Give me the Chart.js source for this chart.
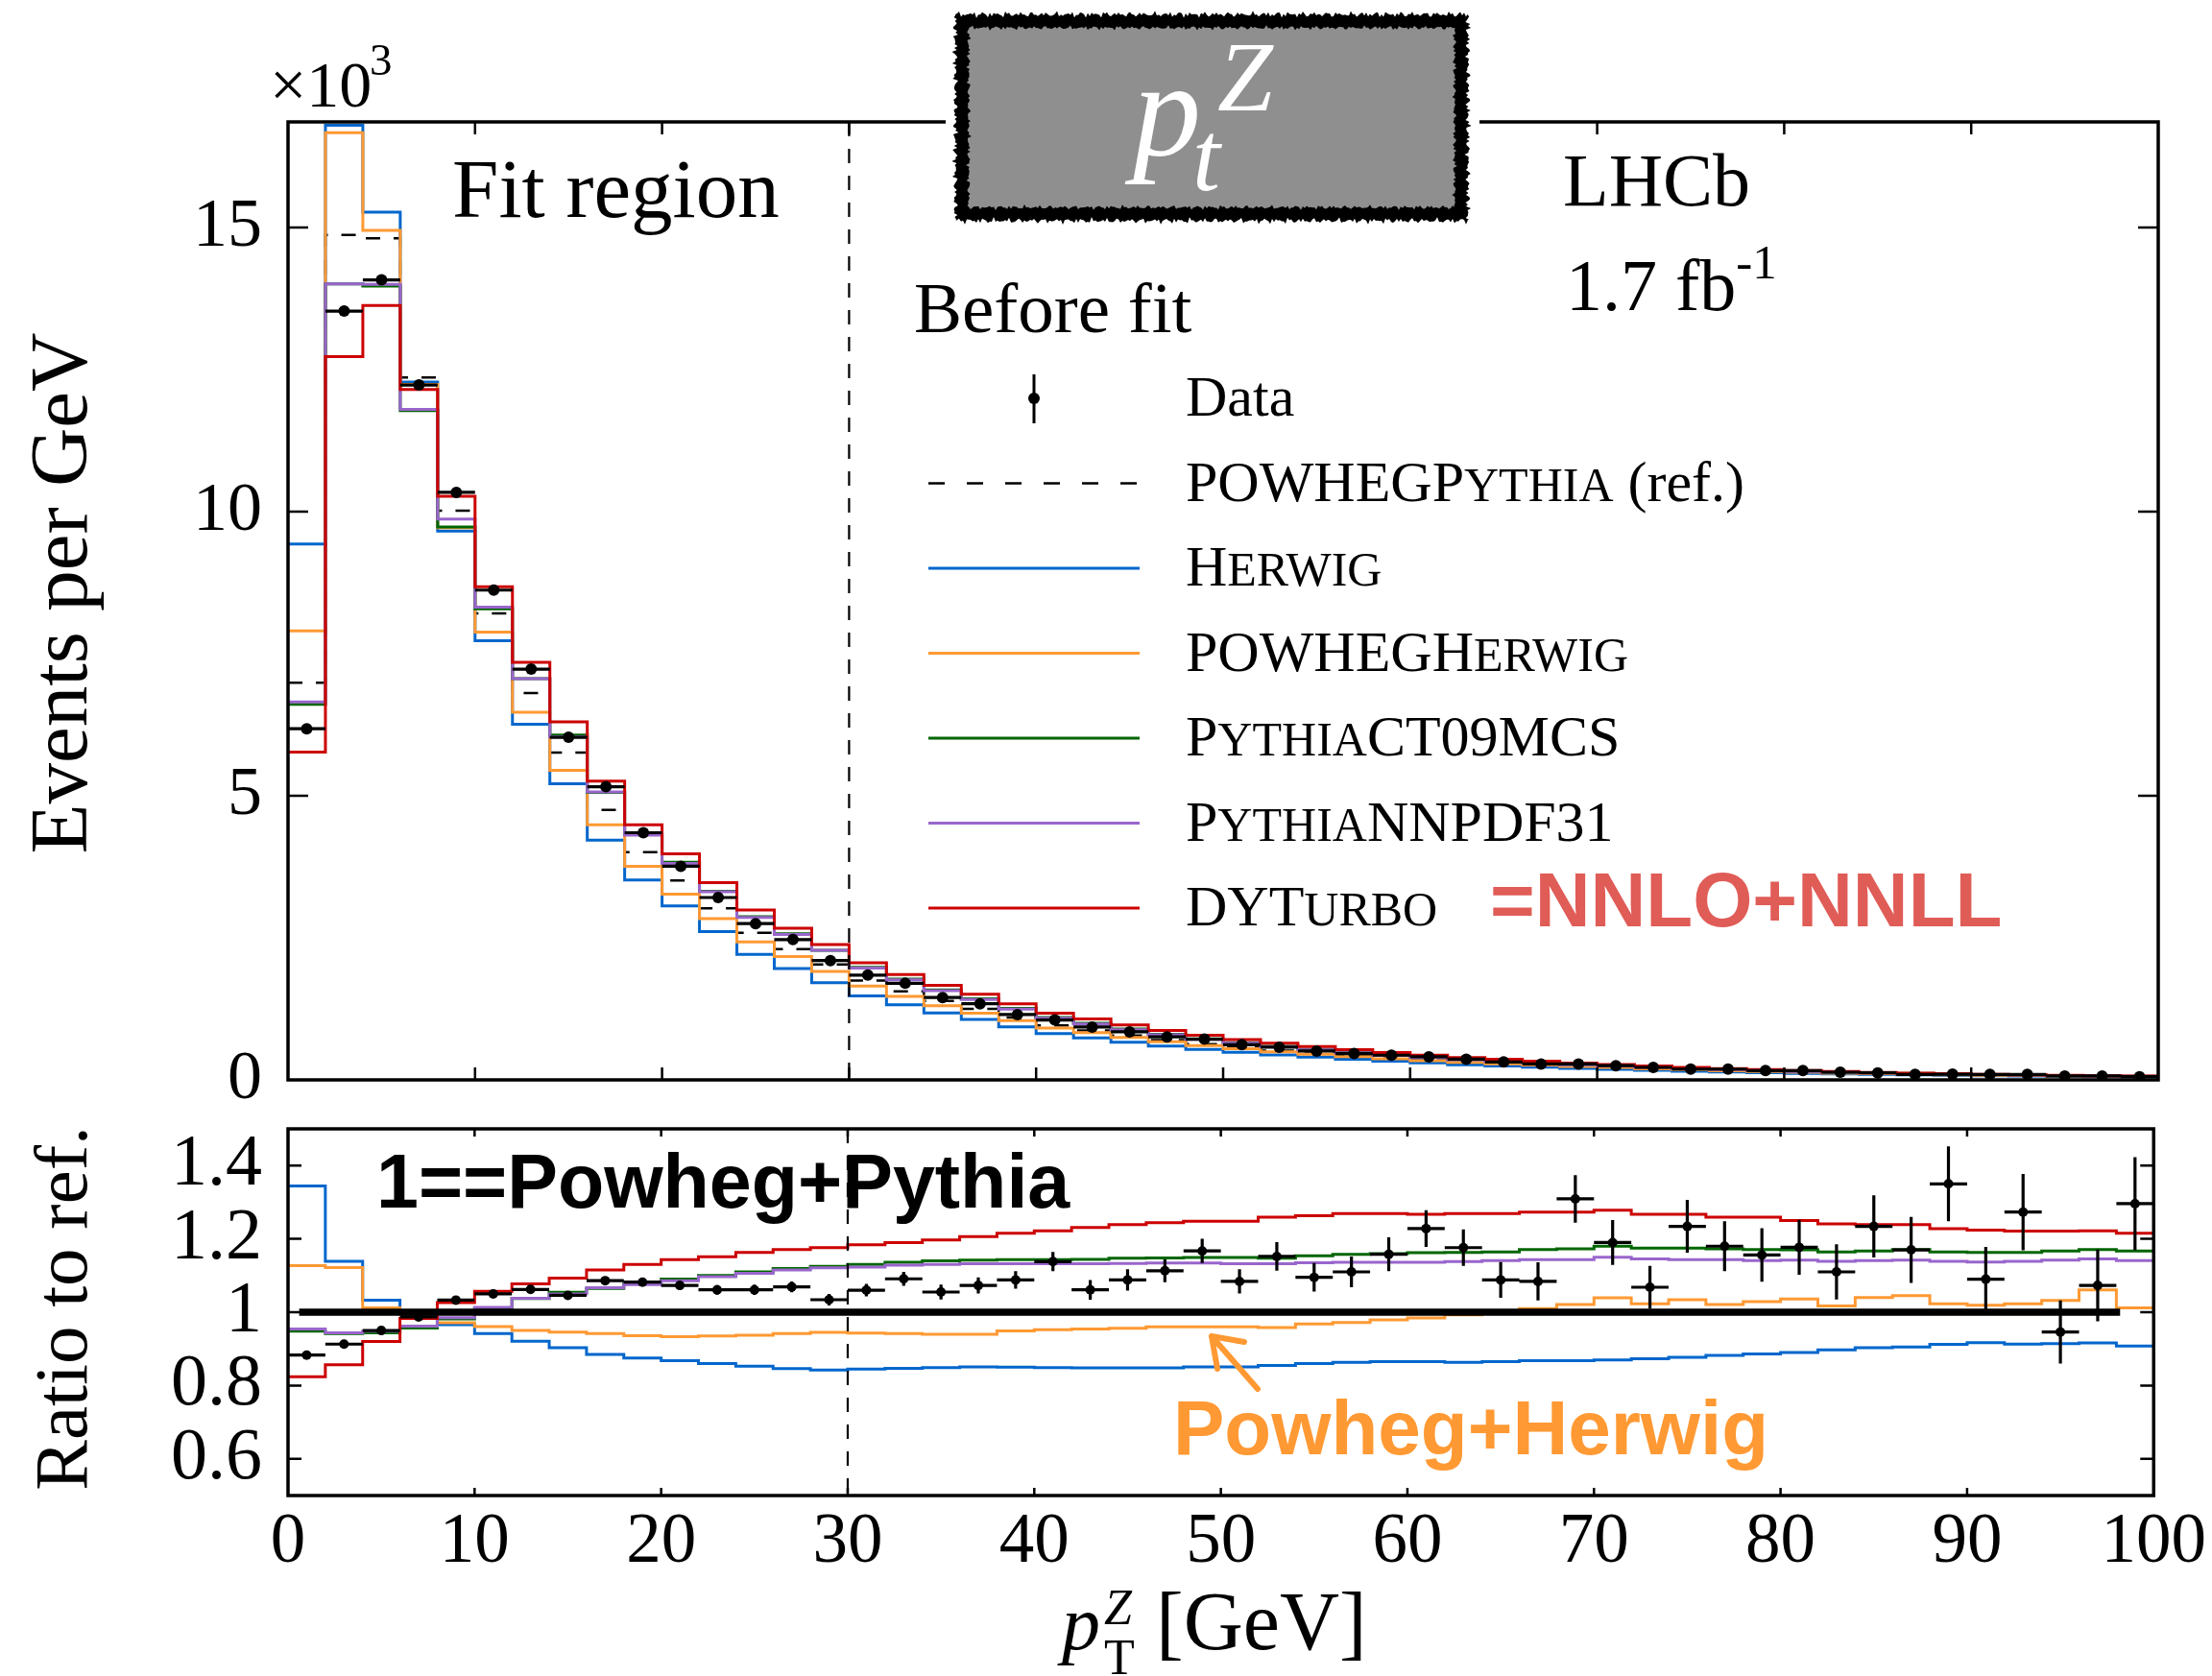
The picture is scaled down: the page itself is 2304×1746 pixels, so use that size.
<!DOCTYPE html>
<html><head><meta charset="utf-8">
<script src="https://cdn.jsdelivr.net/npm/chart.js@4.4.1/dist/chart.umd.min.js"></script>
<style>
html,body{margin:0;padding:0;background:#fff;}
#wrap{position:relative;width:2304px;height:1746px;background:#fff;}
canvas{position:absolute;left:0;top:0;width:2304px;height:1746px;}
</style></head><body>
<div id="wrap"><canvas id="topc" width="2304" height="1746"></canvas><canvas id="ratioc" width="2304" height="1746"></canvas></div>
<script>
// ---------------- data ----------------
const binEdges = [0,2,4,6,8,10,12,14,16,18,20,22,24,26,28,30,32,34,36,38,40,42,44,46,48,50,52,54,56,58,60,62,64,66,68,70,72,74,76,78,80,82,84,86,88,90,92,94,96,98,100];
const binCenters = [1,3,5,7,9,11,13,15,17,19,21,23,25,27,29,31,33,35,37,39,41,43,45,47,49,51,53,55,57,59,61,63,65,67,69,71,73,75,77,79,81,83,85,87,89,91,93,95,97,99];
const xTicks = [0,10,20,30,40,50,60,70,80,90,100];
const topYTicks = [0,5,10,15];
const ratioYTicks = [0.6,0.8,1,1.2,1.4];
const fitRegionEdge = [30];
const refLineX = [0.6,98.2];

// events per GeV (x10^3)
const refTop = [6.99,14.87,14.81,12.36,10.02,8.21,6.81,5.76,4.75,4.01,3.51,3.02,2.59,2.30,2.03,1.75,1.56,1.39,1.25,1.10,0.96,0.87,0.78,0.70,0.63,0.57,0.515,0.465,0.42,0.38,0.345,0.31,0.285,0.258,0.232,0.212,0.192,0.174,0.158,0.143,0.13,0.118,0.107,0.097,0.088,0.08,0.073,0.066,0.06,0.054];
const herwigTop = [9.43,16.8,15.27,12.28,9.66,7.73,6.26,5.21,4.22,3.52,3.06,2.61,2.21,1.96,1.71,1.48,1.32,1.18,1.064,0.935,0.815,0.738,0.661,0.594,0.536,0.485,0.44,0.40,0.362,0.329,0.298,0.268,0.247,0.224,0.201,0.184,0.168,0.153,0.139,0.127,0.116,0.106,0.097,0.088,0.080,0.073,0.067,0.060,0.055,0.049];
const powhegHerwigTop = [7.9,16.67,14.95,12.24,9.72,7.88,6.47,5.45,4.49,3.76,3.27,2.84,2.43,2.17,1.91,1.65,1.47,1.307,1.175,1.044,0.914,0.83,0.746,0.672,0.605,0.547,0.493,0.45,0.408,0.372,0.339,0.308,0.284,0.261,0.237,0.22,0.196,0.18,0.161,0.147,0.135,0.12,0.111,0.101,0.09,0.082,0.075,0.068,0.064,0.055];
const ct09Top = [6.61,14.01,13.97,11.78,9.73,8.29,7.06,6.07,5.06,4.32,3.83,3.32,2.87,2.57,2.28,1.98,1.772,1.585,1.428,1.257,1.097,0.995,0.895,0.804,0.724,0.655,0.591,0.537,0.486,0.441,0.401,0.361,0.332,0.302,0.272,0.25,0.226,0.204,0.185,0.167,0.152,0.137,0.125,0.114,0.102,0.093,0.085,0.077,0.070,0.063];
const nnpdfTop = [6.65,14.01,14.0,11.80,9.87,8.32,7.06,6.04,5.07,4.31,3.81,3.31,2.86,2.56,2.28,1.97,1.76,1.571,1.415,1.245,1.087,0.985,0.884,0.794,0.714,0.645,0.583,0.528,0.477,0.432,0.392,0.353,0.325,0.295,0.265,0.244,0.22,0.199,0.181,0.163,0.148,0.134,0.122,0.111,0.10,0.091,0.083,0.075,0.069,0.062];
const dyturboTop = [5.77,12.73,13.63,12.15,10.27,8.68,7.35,6.30,5.26,4.49,3.98,3.47,2.99,2.67,2.38,2.06,1.856,1.664,1.508,1.337,1.173,1.071,0.966,0.871,0.786,0.711,0.648,0.587,0.533,0.482,0.437,0.393,0.362,0.328,0.295,0.271,0.243,0.22,0.199,0.18,0.163,0.146,0.133,0.12,0.108,0.098,0.089,0.081,0.073,0.066];
const dataTop = [6.18,13.53,14.08,12.23,10.34,8.62,7.23,6.03,5.16,4.35,3.76,3.21,2.75,2.47,2.10,1.845,1.70,1.45,1.34,1.15,1.055,0.93,0.846,0.757,0.717,0.62,0.575,0.508,0.463,0.435,0.406,0.364,0.315,0.28,0.28,0.25,0.22,0.19,0.19,0.164,0.164,0.135,0.124,0.096,0.10,0.096,0.096,0.068,0.068,0.056];
const dataTopErr = [0.03,0.07,0.07,0.06,0.06,0.06,0.05,0.05,0.05,0.045,0.04,0.04,0.036,0.035,0.033,0.03,0.03,0.028,0.027,0.026,0.025,0.024,0.023,0.022,0.021,0.019,0.02,0.018,0.018,0.017,0.017,0.016,0.014,0.013,0.015,0.013,0.011,0.0125,0.011,0.01,0.01,0.009,0.009,0.0087,0.009,0.007,0.0076,0.0057,0.0059,0.0069];

// ratio to POWHEG+Pythia
const herwigRatio = [1.344,1.139,1.033,0.995,0.966,0.942,0.921,0.903,0.885,0.875,0.868,0.860,0.853,0.846,0.842,0.845,0.847,0.849,0.851,0.850,0.849,0.848,0.848,0.848,0.851,0.851,0.855,0.860,0.863,0.865,0.865,0.863,0.865,0.868,0.868,0.870,0.873,0.877,0.882,0.886,0.890,0.897,0.903,0.905,0.912,0.917,0.913,0.914,0.916,0.908];
const powhegHerwigRatio = [1.127,1.122,1.012,0.995,0.971,0.961,0.950,0.946,0.942,0.936,0.933,0.935,0.937,0.942,0.945,0.943,0.942,0.940,0.940,0.949,0.952,0.954,0.956,0.960,0.960,0.960,0.958,0.968,0.972,0.979,0.984,0.993,0.997,1.010,1.021,1.039,1.023,1.034,1.021,1.029,1.036,1.017,1.040,1.045,1.023,1.019,1.023,1.032,1.061,1.012];
const ct09Ratio = [0.948,0.942,0.944,0.957,0.982,1.011,1.037,1.054,1.065,1.078,1.090,1.100,1.110,1.119,1.125,1.130,1.136,1.140,1.142,1.143,1.143,1.144,1.147,1.148,1.149,1.149,1.147,1.154,1.158,1.160,1.162,1.163,1.164,1.171,1.173,1.180,1.175,1.175,1.173,1.171,1.170,1.164,1.167,1.171,1.164,1.163,1.163,1.167,1.171,1.167];
const nnpdfRatio = [0.954,0.944,0.948,0.962,0.985,1.013,1.038,1.050,1.067,1.075,1.086,1.097,1.106,1.115,1.121,1.123,1.128,1.130,1.132,1.132,1.132,1.132,1.133,1.134,1.134,1.132,1.132,1.135,1.136,1.136,1.136,1.138,1.141,1.143,1.143,1.150,1.145,1.143,1.143,1.141,1.142,1.139,1.141,1.142,1.139,1.137,1.139,1.142,1.145,1.141];
const dyturboRatio = [0.824,0.857,0.920,0.983,1.026,1.057,1.077,1.093,1.115,1.130,1.143,1.151,1.163,1.171,1.176,1.184,1.190,1.197,1.206,1.215,1.222,1.231,1.239,1.244,1.248,1.248,1.259,1.263,1.269,1.269,1.267,1.269,1.269,1.273,1.273,1.278,1.267,1.267,1.259,1.259,1.250,1.241,1.239,1.239,1.228,1.224,1.221,1.221,1.222,1.215];
const dataRatio = [0.883,0.913,0.950,0.987,1.033,1.050,1.062,1.046,1.086,1.082,1.073,1.061,1.061,1.069,1.034,1.060,1.091,1.055,1.073,1.088,1.138,1.061,1.088,1.113,1.167,1.084,1.152,1.095,1.110,1.158,1.228,1.176,1.088,1.084,1.309,1.190,1.068,1.234,1.180,1.156,1.177,1.110,1.234,1.170,1.350,1.090,1.273,0.946,1.073,1.296];
const dataRatioErr = [0.005,0.005,0.005,0.006,0.006,0.007,0.008,0.009,0.010,0.011,0.012,0.013,0.014,0.015,0.016,0.017,0.019,0.020,0.022,0.024,0.026,0.027,0.029,0.031,0.033,0.033,0.039,0.039,0.042,0.046,0.050,0.050,0.049,0.052,0.065,0.061,0.058,0.072,0.068,0.073,0.075,0.075,0.085,0.090,0.102,0.088,0.104,0.086,0.098,0.127];

// ---------------- styles ----------------
const SERIF = '"Liberation Serif","Times New Roman",serif';
const SANS = '"Liberation Sans",Arial,sans-serif';
const C_BLUE = '#0066cc', C_ORANGE = '#ff9933', C_GREEN = '#006600', C_PURPLE = '#9966cc', C_RED = '#cc0000';

function histPoints(vals){
  const pts = vals.map((v,i)=>({x:binEdges[i], y:v}));
  pts.push({x:binEdges[binEdges.length-1], y:vals[vals.length-1]});
  return pts;
}
function hist(label, vals, color, order, extra){
  return Object.assign({label, data:histPoints(vals), stepped:'before', borderColor:color, borderWidth:3,
    pointRadius:0, fill:false, order, tension:0}, extra||{});
}
function pointsOf(vals){ return binCenters.map((x,i)=>({x, y:vals[i]})); }

function txt(ctx, s, x, y, size, o){
  o = o||{};
  ctx.save();
  ctx.font = (o.style||'') + ' ' + (o.weight||'') + ' ' + size + 'px ' + (o.family||SERIF);
  ctx.fillStyle = o.color||'#000';
  ctx.textAlign = o.align||'left';
  ctx.textBaseline = 'alphabetic';
  ctx.fillText(s, x, y);
  const w = ctx.measureText(s).width;
  ctx.restore();
  return w;
}

function drawFrame(ctx, a, x, y, yTicks, xLen, yLen){
  ctx.save();
  ctx.strokeStyle='#000';
  ctx.lineWidth=2.5;
  ctx.beginPath();
  xTicks.forEach(v=>{
    if (v===0||v===100) return;
    const px=x.getPixelForValue(v);
    ctx.moveTo(px,a.bottom); ctx.lineTo(px,a.bottom-xLen);
    ctx.moveTo(px,a.top); ctx.lineTo(px,a.top+xLen);
  });
  yTicks.forEach(v=>{
    const py=y.getPixelForValue(v);
    if (Math.abs(py-a.bottom)<2||Math.abs(py-a.top)<2) return;
    ctx.moveTo(a.left,py); ctx.lineTo(a.left+yLen,py);
    ctx.moveTo(a.right,py); ctx.lineTo(a.right-yLen,py);
  });
  ctx.stroke();
  ctx.lineWidth=3.5;
  ctx.strokeRect(a.left,a.top,a.right-a.left,a.bottom-a.top);
  ctx.restore();
}

function errorBars(chart, vals, errs, lw){
  const {ctx, scales:{x,y}, chartArea:a} = chart;
  ctx.save();
  ctx.beginPath(); ctx.rect(a.left,a.top,a.right-a.left,a.bottom-a.top); ctx.clip();
  ctx.strokeStyle='#000'; ctx.lineWidth=lw;
  ctx.beginPath();
  vals.forEach((v,i)=>{
    const cx=x.getPixelForValue(binCenters[i]);
    const py=y.getPixelForValue(v);
    ctx.moveTo(x.getPixelForValue(binEdges[i]),py); ctx.lineTo(x.getPixelForValue(binEdges[i+1]),py);
    ctx.moveTo(cx,y.getPixelForValue(v-errs[i])); ctx.lineTo(cx,y.getPixelForValue(v+errs[i]));
  });
  ctx.stroke();
  ctx.restore();
}

function dashedFit(chart){
  const {ctx, scales:{x}, chartArea:a} = chart;
  ctx.save();
  ctx.strokeStyle='#000'; ctx.lineWidth=2.2; ctx.setLineDash([15,13]);
  const px=x.getPixelForValue(fitRegionEdge[0]);
  ctx.beginPath(); ctx.moveTo(px,a.top); ctx.lineTo(px,a.bottom); ctx.stroke();
  ctx.restore();
}

// decorative rough border for the title badge (deterministic)
function jag(k){ return Math.sin(k*2.71)*Math.sin(k*0.37+1) + 0.6*Math.sin(k*5.3) + 0.4*Math.sin(k*11.1); }
function roughRectPath(ctx,x0,y0,x1,y1,amp){
  let k=0; const st=2;
  ctx.beginPath();
  for(let X=x0;X<x1;X+=st){ ctx.lineTo(X, y0+amp*jag(k++)); }
  for(let Y=y0;Y<y1;Y+=st){ ctx.lineTo(x1+amp*jag(k++), Y); }
  for(let X=x1;X>x0;X-=st){ ctx.lineTo(X, y1+amp*jag(k++)); }
  for(let Y=y1;Y>y0;Y-=st){ ctx.lineTo(x0+amp*jag(k++), Y); }
  ctx.closePath();
}

const legendRows = [
  [['Data',0]],
  [['POWHEGP',0],['YTHIA',1],[' (ref.)',0]],
  [['H',0],['ERWIG',1]],
  [['POWHEGH',0],['ERWIG',1]],
  [['P',0],['YTHIA',1],['CT09MCS',0]],
  [['P',0],['YTHIA',1],['NNPDF31',0]],
  [['DYT',0],['URBO',1]]
];
const legendColors = [null,'#000',C_BLUE,C_ORANGE,C_GREEN,C_PURPLE,C_RED];

const topDecor = {
  id:'topDecor',
  afterDatasetsDraw(chart){
    errorBars(chart, dataTop, dataTopErr, 3.2);
    dashedFit(chart);
  },
  afterDraw(chart){
    const {ctx, chartArea:a, scales:{x,y}} = chart;
    drawFrame(ctx, a, x, y, topYTicks, 13, 21);
    // x10^3
    txt(ctx,'\u00d710',281,111,68);
    txt(ctx,'3',385,78,47);
    // y title
    ctx.save(); ctx.translate(90,618); ctx.rotate(-Math.PI/2);
    txt(ctx,'Events per GeV',0,0,85,{align:'center'}); ctx.restore();
    // texts
    txt(ctx,'Fit region',471,226,87);
    txt(ctx,'LHCb',1628,214,78);
    const w = txt(ctx,'1.7 fb',1631,323,76);
    txt(ctx,'-1',1631+w,290,51);
    txt(ctx,'Before fit',952,346,75);
    // legend
    const base = [433,521.5,610,698.5,787,875.5,964];
    legendRows.forEach((segs,i)=>{
      let xx = 1235;
      segs.forEach(([s,sc])=>{ xx += txt(ctx, s, xx, base[i], sc?50:60); });
      const ly = base[i]-18;
      ctx.save();
      if (i===0){
        ctx.strokeStyle='#000'; ctx.lineWidth=3;
        ctx.beginPath(); ctx.moveTo(1077,390); ctx.lineTo(1077,441); ctx.stroke();
        ctx.fillStyle='#000'; ctx.beginPath(); ctx.arc(1077,415,6,0,Math.PI*2); ctx.fill();
      } else {
        ctx.strokeStyle=legendColors[i]; ctx.lineWidth= i===1?2.5:3;
        if (i===1) ctx.setLineDash([17,23]);
        ctx.beginPath(); ctx.moveTo(967,ly); ctx.lineTo(1187,ly); ctx.stroke();
      }
      ctx.restore();
    });
    txt(ctx,'=NNLO+NNLL',1552,965,80,{weight:'bold',family:SANS,color:'#e05c57'});
    // title badge
    ctx.save();
    ctx.fillStyle='#fff'; ctx.fillRect(985,6,556,234);
    roughRectPath(ctx,995,15,1529,230,2.2); ctx.fillStyle='#000'; ctx.fill();
    roughRectPath(ctx,1009,29,1515,216,1.6); ctx.fillStyle='#8f8f8f'; ctx.fill();
    ctx.restore();
    txt(ctx,'p',1180,162,142,{style:'italic',color:'#fff'});
    txt(ctx,'Z',1268,115,104,{style:'italic',color:'#fff'});
    txt(ctx,'t',1242,198,104,{style:'italic',color:'#fff'});
  }
};

const ratioDecor = {
  id:'ratioDecor',
  afterDatasetsDraw(chart){
    errorBars(chart, dataRatio, dataRatioErr, 3.2);
  },
  afterDraw(chart){
    const {ctx, chartArea:a, scales:{x,y}} = chart;
    txt(ctx,'1==Powheg+Pythia',392,1258,79,{weight:'bold',family:SANS});
    dashedFit(chart);
    drawFrame(ctx, a, x, y, ratioYTicks, 8, 14);
    txt(ctx,'Powheg+Herwig',1222,1515,80,{weight:'bold',family:SANS,color:C_ORANGE});
    // arrow
    ctx.save();
    ctx.strokeStyle=C_ORANGE; ctx.lineWidth=6; ctx.lineCap='round';
    ctx.beginPath(); ctx.moveTo(1310,1447); ctx.lineTo(1262,1392);
    ctx.moveTo(1262,1392); ctx.lineTo(1296,1398);
    ctx.moveTo(1262,1392); ctx.lineTo(1268,1426);
    ctx.stroke(); ctx.restore();
    // y title
    ctx.save(); ctx.translate(90,1363); ctx.rotate(-Math.PI/2);
    txt(ctx,'Ratio to ref.',0,0,79,{align:'center'}); ctx.restore();
    // x title
    txt(ctx,'p',1106,1718,80,{style:'italic'});
    txt(ctx,'Z',1150,1692,52,{style:'italic'});
    txt(ctx,'T',1150,1744,52);
    txt(ctx,'[GeV]',1204,1718,86);
  }
};

const commonOpts = {responsive:false, animation:false, devicePixelRatio:1,
  plugins:{legend:{display:false}, tooltip:{enabled:false}}, events:[]};

new Chart(document.getElementById('topc'), {
  type:'line',
  data:{datasets:[
    {label:'Data', data:pointsOf(dataTop), showLine:false, pointRadius:6, pointBackgroundColor:'#000', pointBorderWidth:0, order:0},
    hist('DYTurbo', dyturboTop, C_RED, 1),
    hist('PythiaNNPDF31', nnpdfTop, C_PURPLE, 2),
    hist('PythiaCT09MCS', ct09Top, C_GREEN, 3),
    hist('POWHEGHerwig', powhegHerwigTop, C_ORANGE, 4),
    hist('Herwig', herwigTop, C_BLUE, 5),
    hist('POWHEGPythia (ref.)', refTop, '#000', 6, {borderDash:[15,14], borderWidth:2.5})
  ]},
  options:Object.assign({}, commonOpts, {
    layout:{padding:{left:0, top:127, right:56, bottom:621}},
    scales:{
      x:{type:'linear', min:0, max:100, display:false},
      y:{type:'linear', min:0, max:16.86,
         afterFit(s){ s.width=300; },
         afterBuildTicks(s){ s.ticks = topYTicks.map(v=>({value:v})); },
         grid:{display:false, drawTicks:false}, border:{display:false},
         ticks:{padding:27, color:'#000', font:{family:SERIF,size:72}, callback:v=>String(v)}}
    }
  }),
  plugins:[topDecor]
});

new Chart(document.getElementById('ratioc'), {
  type:'line',
  data:{datasets:[
    {label:'Data', data:pointsOf(dataRatio), showLine:false, pointRadius:5, pointBackgroundColor:'#000', pointBorderWidth:0, order:0},
    {label:'ref', data:[{x:refLineX[0],y:1},{x:refLineX[1],y:1}], borderColor:'#000', borderWidth:7.5, pointRadius:0, order:1},
    hist('DYTurbo', dyturboRatio, C_RED, 2),
    hist('PythiaNNPDF31', nnpdfRatio, C_PURPLE, 3),
    hist('PythiaCT09MCS', ct09Ratio, C_GREEN, 4),
    hist('POWHEGHerwig', powhegHerwigRatio, C_ORANGE, 5),
    hist('Herwig', herwigRatio, C_BLUE, 6)
  ]},
  options:Object.assign({}, commonOpts, {
    layout:{padding:{left:0, top:1176, right:56, bottom:38}},
    scales:{
      x:{type:'linear', min:0, max:100,
         afterFit(s){ s.height=150; },
         afterBuildTicks(s){ s.ticks = xTicks.map(v=>({value:v})); },
         grid:{display:false, drawTicks:false}, border:{display:false},
         ticks:{padding:6, color:'#000', maxRotation:0, autoSkip:false, font:{family:SERIF,size:73}, callback:v=>String(v)}},
      y:{type:'linear', min:0.5, max:1.5,
         afterFit(s){ s.width=300; },
         afterBuildTicks(s){ s.ticks = ratioYTicks.map(v=>({value:v})); },
         grid:{display:false, drawTicks:false}, border:{display:false},
         ticks:{padding:27, color:'#000', font:{family:SERIF,size:76}, callback:v=>String(v)}}
    }
  }),
  plugins:[ratioDecor]
});
</script>
</body></html>
